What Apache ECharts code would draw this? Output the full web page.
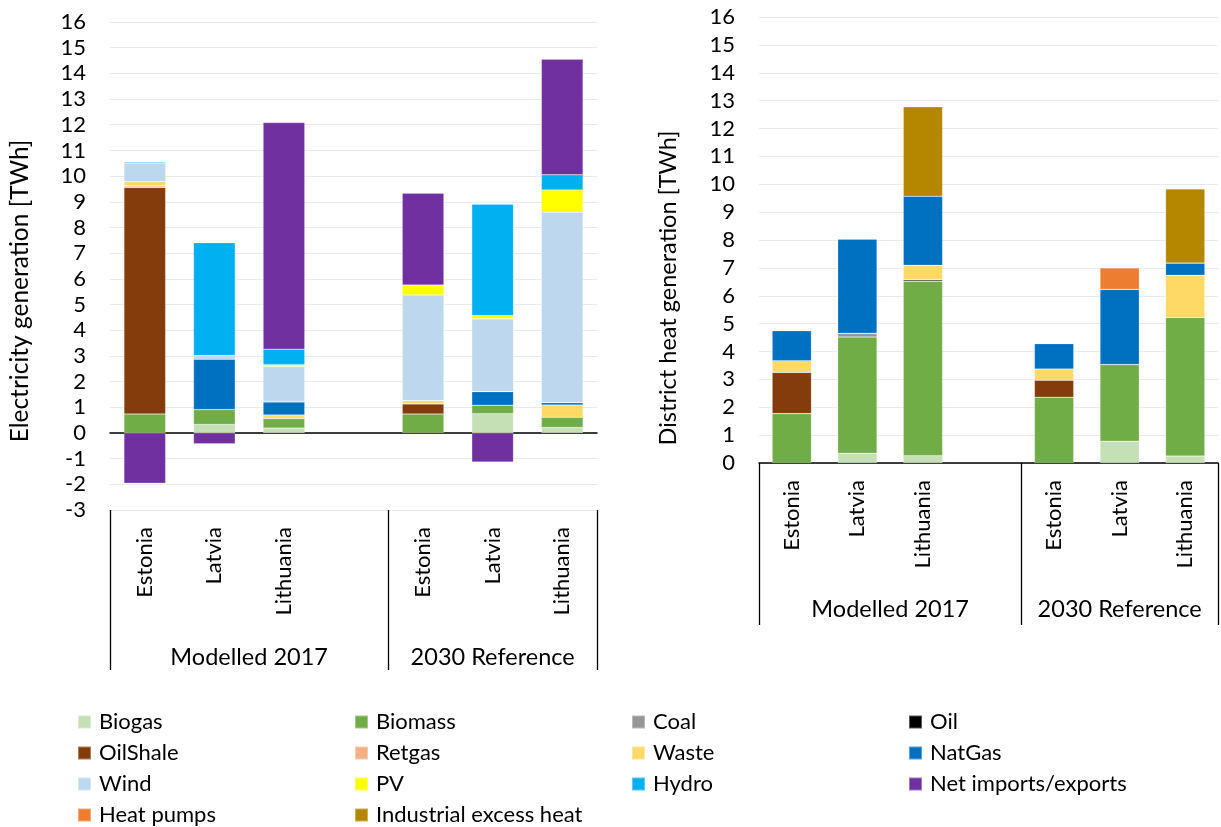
<!DOCTYPE html>
<html>
<head>
<meta charset="utf-8">
<script src="https://cdn.jsdelivr.net/npm/echarts@6/dist/echarts.min.js"></script>
<style>
  html, body { margin: 0; padding: 0; background: #fff; }
  #chart { width: 1221px; height: 827px; }
</style>
</head>
<body>
<div id="chart"></div>
<script>
// Slots: three countries per scenario, with an empty slot closing the first group
const categories = ['Estonia', 'Latvia', 'Lithuania', '', 'Estonia', 'Latvia', 'Lithuania'];
const groupLabels = ['Modelled 2017', '2030 Reference'];
const groupCenters = [2, 5.5];     // in slot units
const groupBounds = [0, 4, 7];     // in slot units

// Electricity generation [TWh]
const elecBiogas   = [0,     0.33, 0.19, null, 0,    0.75, 0.21];
const elecBiomass  = [0.74,  0.58, 0.37, null, 0.74, 0.33, 0.40];
const elecOilShale = [8.82,  0,    0,    null, 0.39, 0,    0];
const elecRetgas   = [0.06,  0,    0,    null, 0,    0,    0];
const elecWaste    = [0.17,  0,    0.14, null, 0.13, 0,    0.48];
const elecNatGas   = [0,     1.96, 0.51, null, 0,    0.53, 0.09];
const elecWind     = [0.72,  0.14, 1.38, null, 4.11, 2.83, 7.41];
const elecPV       = [0,     0,    0.06, null, 0.39, 0.13, 0.87];
const elecHydro    = [0.04,  4.40, 0.61, null, 0,    4.34, 0.59];
const elecNetImp   = [-1.96, -0.42, 8.83, null, 3.57, -1.13, 4.50];

// District heat generation [TWh]
const heatBiogas     = [0,    0.35, 0.26, null, 0,    0.78, 0.25];
const heatBiomass    = [1.77, 4.17, 6.26, null, 2.36, 2.75, 4.97];
const heatCoal       = [0,    0.13, 0,    null, 0,    0,    0];
const heatOil        = [0,    0,    0.05, null, 0,    0,    0];
const heatOilShale   = [1.48, 0,    0,    null, 0.61, 0,    0];
const heatWaste      = [0.42, 0,    0.52, null, 0.40, 0,    1.51];
const heatNatGas     = [1.08, 3.38, 2.48, null, 0.91, 2.70, 0.44];
const heatPumps      = [0,    0,    0,    null, 0,    0.77, 0];
const heatIndustrial = [0,    0,    3.21, null, 0,    0,    2.66];

const yTicksElec = { min: -3, max: 16, interval: 1 };
const yTicksHeat = { min: 0, max: 16, interval: 1 };

// Fuel types in stacking order (bottom to top)
const fuels = [
  { name: 'Biogas',                  color: '#C5E0B4', elec: elecBiogas,   heat: heatBiogas },
  { name: 'Biomass',                 color: '#70AD47', elec: elecBiomass,  heat: heatBiomass },
  { name: 'Coal',                    color: '#969696', elec: null,         heat: heatCoal },
  { name: 'Oil',                     color: '#000000', elec: null,         heat: heatOil },
  { name: 'OilShale',                color: '#843C0C', elec: elecOilShale, heat: heatOilShale },
  { name: 'Retgas',                  color: '#F4B183', elec: elecRetgas,   heat: null },
  { name: 'Waste',                   color: '#FFD966', elec: elecWaste,    heat: heatWaste },
  { name: 'NatGas',                  color: '#0070C0', elec: elecNatGas,   heat: heatNatGas },
  { name: 'Wind',                    color: '#BDD7EE', elec: elecWind,     heat: null },
  { name: 'PV',                      color: '#FFFF00', elec: elecPV,       heat: null },
  { name: 'Hydro',                   color: '#00B0F0', elec: elecHydro,    heat: null },
  { name: 'Net imports/exports',     color: '#7030A0', elec: elecNetImp,   heat: null },
  { name: 'Heat pumps',              color: '#ED7D31', elec: null,         heat: heatPumps },
  { name: 'Industrial excess heat',  color: '#B58600', elec: null,         heat: heatIndustrial }
];

const legendColumns = [
  ['Biogas', 'OilShale', 'Wind', 'Heat pumps'],
  ['Biomass', 'Retgas', 'PV', 'Industrial excess heat'],
  ['Coal', 'Waste', 'Hydro'],
  ['Oil', 'NatGas', 'Net imports/exports']
];

const FONT = 'Lato';
const FS = 22;
const TXT = '#000000';

const zeroToNull = arr => arr.map(v => (v === 0 ? null : v));

function countryAxis(gridIndex, showLine) {
  return {
    type: 'category', gridIndex, data: categories, position: 'bottom',
    axisLine: { show: showLine, onZero: false, lineStyle: { color: '#000', width: 1.5 } },
    axisTick: { show: false },
    splitLine: { show: false },
    axisLabel: { rotate: 90, margin: 17, interval: 0, fontFamily: FONT, fontSize: FS, color: TXT }
  };
}

function groupAxis(gridIndex, tickLen, labelMargin) {
  return {
    type: 'value', gridIndex, min: 0, max: categories.length, position: 'bottom',
    axisLine: { show: false, onZero: false },
    splitLine: { show: false },
    axisTick: { show: true, customValues: groupBounds, length: tickLen, lineStyle: { color: '#000', width: 1.3 } },
    axisLabel: {
      customValues: groupCenters, margin: labelMargin, fontFamily: FONT, fontSize: 23.5, color: TXT,
      formatter: v => groupLabels[groupCenters.indexOf(v)] || ''
    }
  };
}

function valueAxis(gridIndex, ticks, name, namePad, nameGap, nameSize) {
  return {
    type: 'value', gridIndex, min: ticks.min, max: ticks.max, interval: ticks.interval,
    name, nameLocation: 'middle', nameGap,
    nameTextStyle: { fontFamily: FONT, fontSize: nameSize, color: TXT, padding: namePad },
    axisLine: { show: false }, axisTick: { show: false },
    splitLine: { show: true, lineStyle: { color: '#EAEAEA', width: 1 } },
    axisLabel: { margin: 24, fontFamily: FONT, fontSize: FS, color: TXT }
  };
}

const series = [];
fuels.forEach(f => {
  if (f.elec) {
    series.push({
      name: f.name, type: 'bar', stack: 'elec', xAxisIndex: 0, yAxisIndex: 0,
      barWidth: '60%', data: zeroToNull(f.elec),
      itemStyle: { color: f.color, borderColor: 'rgba(255,255,255,0.35)', borderWidth: 0.6 },
      emphasis: { disabled: true }
    });
  }
  if (f.heat) {
    series.push({
      name: f.name, type: 'bar', stack: 'heat', xAxisIndex: 3, yAxisIndex: 1,
      barWidth: '60%', data: zeroToNull(f.heat),
      itemStyle: { color: f.color, borderColor: 'rgba(255,255,255,0.35)', borderWidth: 0.6 },
      emphasis: { disabled: true }
    });
  }
});
const colorByName = Object.fromEntries(fuels.map(f => [f.name, f.color]));

// Shared legend laid out as four columns
const legendLefts = [77, 354, 631, 908];
const legends = legendColumns.map((names, i) => ({
  orient: 'vertical', left: legendLefts[i], top: 711, height: 116, padding: 0,
  itemWidth: 13, itemHeight: 13, itemGap: 9, icon: 'rect',
  selectedMode: false,
  data: names.map(n => ({ name: n, itemStyle: { color: colorByName[n] } })),
  textStyle: { fontFamily: FONT, fontSize: FS, color: TXT, lineHeight: 20, padding: [0, 0, 0, 3] }
}));

const chart = echarts.init(document.getElementById('chart'), null, { renderer: 'canvas' });
chart.setOption({
  backgroundColor: '#ffffff',
  animation: false,
  legend: legends,
  grid: [
    { left: 110, top: 22, width: 487, height: 488 },
    { left: 759, top: 17, width: 459, height: 446 }
  ],
  xAxis: [
    countryAxis(0, false),
    // zero line of the electricity chart
    {
      type: 'category', gridIndex: 0, data: categories, position: 'bottom',
      axisLine: { show: true, onZero: true, lineStyle: { color: '#000', width: 1.5 } },
      axisTick: { show: false }, axisLabel: { show: false }, splitLine: { show: false }
    },
    groupAxis(0, 160, 135),
    countryAxis(1, true),
    groupAxis(1, 162, 134)
  ],
  yAxis: [
    valueAxis(0, yTicksElec, 'Electricity generation [TWh]', [0, 50, 0, 0], 77, 24.5),
    valueAxis(1, yTicksHeat, 'District heat generation [TWh]', [0, 96, 0, 0], 79, 23.5)
  ],
  series
});
</script>
</body>
</html>
